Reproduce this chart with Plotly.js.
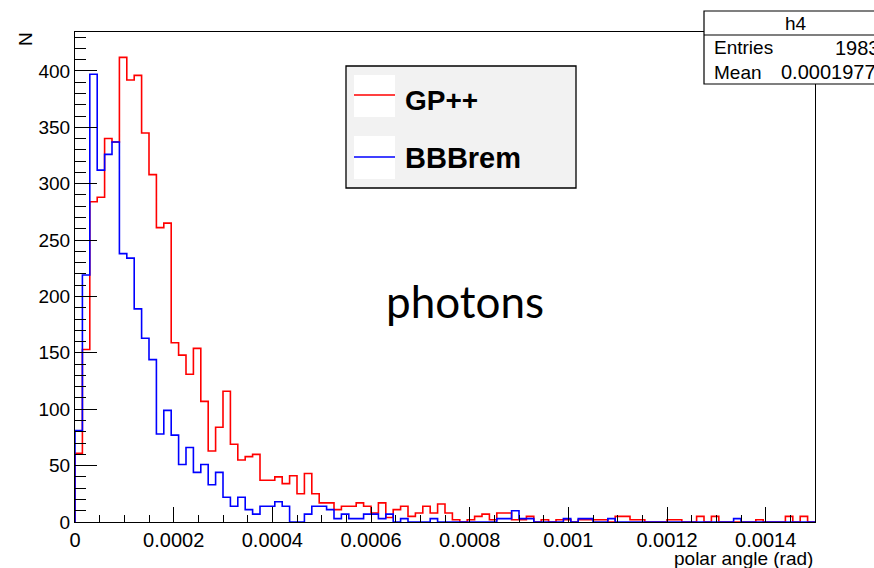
<!DOCTYPE html>
<html><head><meta charset="utf-8">
<script src="https://cdn.plot.ly/plotly-3.0.1.min.js"></script>
<style>html,body{margin:0;padding:0;background:#fff;} #chart{width:874px;height:568px;}</style>
</head><body><div id="chart"></div>
<script>
// histogram binning
const binLow = 0, binHigh = 0.0015, nBins = 100;
// GP++ counts per bin
const gpValues = [61,153,284,288,340,337,412,392,396,345,
  308,261,265,159,148,131,154,107,63,84,
  116,69,55,58,60,37,37,40,34,41,
  25,43,25,17,17,11,14,14,17,14,
  8,17,4,11,14,5,8,14,8,16,
  8,2,0,2,5,7,2,8,8,2,
  2,5,0,2,0,2,2,0,2,2,
  2,2,0,5,5,2,2,0,0,0,
  2,2,0,0,5,0,5,0,0,0,
  0,0,2,0,0,0,5,0,5,0];
// BBBrem counts per bin
const bbValues = [81,219,397,312,326,337,238,234,189,163,
  144,78,99,77,51,66,44,51,33,44,
  22,14,22,11,7,14,14,18,14,0,
  0,7,14,14,11,3,7,3,3,7,
  7,3,7,0,3,0,0,0,3,0,
  0,0,0,0,0,0,0,3,3,10,
  3,3,0,0,0,0,3,0,3,3,
  0,0,3,0,0,0,0,0,0,0,
  0,0,0,0,0,0,0,0,0,3,
  0,0,0,0,0,0,0,0,0,0];
const seriesNames = ["GP++", "BBBrem"];
const xTickVals = [0,0.0002,0.0004,0.0006,0.0008,0.001,0.0012,0.0014];
const xTickText = ["0","0.0002","0.0004","0.0006","0.0008","0.001","0.0012","0.0014"];
const yTickVals = [0,50,100,150,200,250,300,350,400];
const yTickText = ["0","50","100","150","200","250","300","350","400"];
const statsTitle = "h4";
const statsRows = [["Entries","1983"],["Mean","0.0001977"]];
const xTitle = "polar angle (rad)";
const yTitle = "N";
const noteText = "photons";

function stepTrace(vals, color, name){
  const w = (binHigh-binLow)/nBins;
  const xs = [binLow], ys = [0];
  for(let i=0;i<nBins;i++){ xs.push(binLow+i*w); ys.push(vals[i]); }
  xs.push(binHigh); ys.push(vals[nBins-1]);
  xs.push(binHigh); ys.push(0);
  return {type:'scatter', mode:'lines', x:xs, y:ys, name:name,
    line:{shape:'hv', color:color, width:1.6}, hoverinfo:'skip', showlegend:false};
}

const L=75, R=59, T=32, B=46, W=874, H=568;
const pw=W-L-R, ph=H-T-B;
const px = v => (v-L)/pw;
const py = v => (H-B-v)/ph;

const font = 'Liberation Sans, Arial, sans-serif';
const shapes = [
  // legend box
  {type:'rect', xref:'paper', yref:'paper', x0:px(346), x1:px(576), y0:py(188), y1:py(66),
   fillcolor:'#f2f2f2', line:{color:'#000', width:1.3}},
  {type:'rect', xref:'paper', yref:'paper', x0:px(354), x1:px(395), y0:py(117), y1:py(75),
   fillcolor:'#fff', line:{width:0}},
  {type:'rect', xref:'paper', yref:'paper', x0:px(354), x1:px(395), y0:py(179), y1:py(136),
   fillcolor:'#fff', line:{width:0}},
  {type:'line', xref:'paper', yref:'paper', x0:px(354), x1:px(395), y0:py(95), y1:py(95),
   line:{color:'#ff0000', width:1.3}},
  {type:'line', xref:'paper', yref:'paper', x0:px(354), x1:px(395), y0:py(157), y1:py(157),
   line:{color:'#0000ff', width:1.3}},
  // stats box
  {type:'rect', xref:'paper', yref:'paper', x0:px(704), x1:px(900), y0:py(84), y1:py(11),
   fillcolor:'#fff', line:{color:'#000', width:1.2}},
  {type:'line', xref:'paper', yref:'paper', x0:px(704), x1:px(900), y0:py(35), y1:py(35),
   line:{color:'#000', width:1.2}}
];
const annotations = [
  {xref:'paper', yref:'paper', x:px(403), y:py(100), xanchor:'left', yanchor:'middle', showarrow:false,
   text:'<b>'+seriesNames[0]+'</b>', font:{family:font, size:28, color:'#000'}},
  {xref:'paper', yref:'paper', x:px(403), y:py(158), xanchor:'left', yanchor:'middle', showarrow:false,
   text:'<b>'+seriesNames[1]+'</b>', font:{family:font, size:29, color:'#000'}},
  {xref:'paper', yref:'paper', x:px(465), y:py(301), xanchor:'center', yanchor:'middle', showarrow:false,
   text:noteText, font:{family:'Lato, sans-serif', size:44, color:'#000'}},
  {xref:'paper', yref:'paper', x:px(796), y:py(23), xanchor:'center', yanchor:'middle', showarrow:false,
   text:statsTitle, font:{family:font, size:19, color:'#000'}},
  {xref:'paper', yref:'paper', x:px(712), y:py(48), xanchor:'left', yanchor:'middle', showarrow:false,
   text:statsRows[0][0], font:{family:font, size:19, color:'#000'}},
  {xref:'paper', yref:'paper', x:px(833), y:py(48), xanchor:'left', yanchor:'middle', showarrow:false,
   text:statsRows[0][1], font:{family:font, size:20, color:'#000'}},
  {xref:'paper', yref:'paper', x:px(712), y:py(72), xanchor:'left', yanchor:'middle', showarrow:false,
   text:statsRows[1][0], font:{family:font, size:19, color:'#000'}},
  {xref:'paper', yref:'paper', x:px(779), y:py(72), xanchor:'left', yanchor:'middle', showarrow:false,
   text:statsRows[1][1], font:{family:font, size:20, color:'#000'}},
  {xref:'paper', yref:'paper', x:px(815), y:py(558), xanchor:'right', yanchor:'middle', showarrow:false,
   text:xTitle, font:{family:font, size:19, color:'#000'}},
  {xref:'paper', yref:'paper', x:px(26), y:py(39), xanchor:'center', yanchor:'middle', showarrow:false,
   textangle:-90, text:yTitle, font:{family:font, size:19, color:'#000'}}
];

const layout = {
  width:W, height:H, margin:{l:L, r:R, t:T, b:B, pad:0},
  paper_bgcolor:'#fff', plot_bgcolor:'#fff', showlegend:false,
  font:{family:font, color:'#000'},
  xaxis:{range:[binLow, binHigh], showgrid:false, zeroline:false, showline:true, mirror:true,
    linecolor:'#000', linewidth:1, ticks:'inside', ticklen:15, tickcolor:'#000', tickwidth:1,
    tickmode:'array', tickvals:xTickVals, ticktext:xTickText, tickfont:{family:font, size:20, color:'#000'},
    minor:{tickmode:'linear', tick0:0, dtick:0.00005, ticks:'inside', ticklen:7, tickcolor:'#000', tickwidth:1, showgrid:false}},
  yaxis:{range:[0, 434.5], showgrid:false, zeroline:false, showline:true, mirror:true,
    linecolor:'#000', linewidth:1, ticks:'inside', ticklen:22, tickcolor:'#000', tickwidth:1,
    tickmode:'array', tickvals:yTickVals, ticktext:yTickText, tickfont:{family:font, size:19, color:'#000'},
    minor:{tickmode:'linear', tick0:0, dtick:10, ticks:'inside', ticklen:11, tickcolor:'#000', tickwidth:1, showgrid:false}},
  shapes:shapes, annotations:annotations
};

Plotly.newPlot('chart', [stepTrace(gpValues,'#ff0000',seriesNames[0]), stepTrace(bbValues,'#0000ff',seriesNames[1])], layout, {staticPlot:true, displayModeBar:false});
</script></body></html>
